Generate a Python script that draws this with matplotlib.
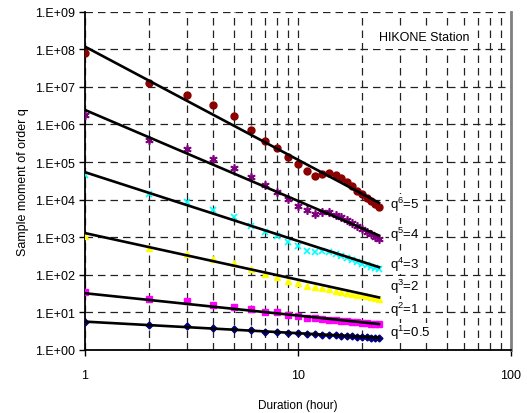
import numpy as np
import matplotlib
matplotlib.use("Agg")
import matplotlib.pyplot as plt

plt.rcParams['font.family'] = ['Liberation Sans', 'DejaVu Sans']
plt.rcParams['mathtext.fontset'] = 'custom'
plt.rcParams['mathtext.rm'] = 'Liberation Sans'

# Durations (hours)
durations = list(range(1, 25))

# log10 of sample moments
log_q05 = [0.74, 0.67, 0.64, 0.58, 0.55, 0.535, 0.49, 0.47, 0.46, 0.45, 0.43, 0.42,
           0.41, 0.40, 0.39, 0.38, 0.37, 0.36, 0.355, 0.35, 0.34, 0.33, 0.325, 0.315]
log_q1 = [1.54, 1.36, 1.30, 1.20, 1.14, 1.10, 1.02, 1.00, 0.93, 0.90, 0.86, 0.84,
          0.83, 0.81, 0.79, 0.77, 0.76, 0.75, 0.74, 0.72, 0.71, 0.70, 0.69, 0.68]
log_q2 = [3.02, 2.715, 2.56, 2.415, 2.31, 2.16, 2.03, 1.93, 1.84, 1.78, 1.69, 1.67,
          1.64, 1.61, 1.58, 1.55, 1.52, 1.49, 1.47, 1.45, 1.43, 1.41, 1.39, 1.37]
log_q3 = [4.66, 4.15, 3.95, 3.73, 3.53, 3.30, 3.15, 3.03, 2.88, 2.78, 2.64, 2.60,
          2.63, 2.60, 2.56, 2.50, 2.45, 2.39, 2.34, 2.29, 2.25, 2.21, 2.18, 2.15]
log_q4 = [6.25, 5.60, 5.34, 5.07, 4.84, 4.60, 4.40, 4.20, 4.02, 3.82, 3.73, 3.62,
          3.66, 3.66, 3.60, 3.53, 3.47, 3.38, 3.30, 3.22, 3.15, 3.08, 3.01, 2.96]
log_q5 = [7.90, 7.095, 6.78, 6.52, 6.22, 5.86, 5.57, 5.375, 5.144, 4.95, 4.77, 4.63,
          4.68, 4.71, 4.665, 4.58, 4.47, 4.36, 4.24, 4.14, 4.05, 3.97, 3.88, 3.80]

# Fitted power-law lines: log10 value at 1 hour and exponent
fit_log_intercept = [0.755, 1.51, 3.11, 4.73, 6.386, 8.07]
fit_exponent = [-0.308, -0.594, -1.24, -1.83, -2.42, -3.01]

series_logs = [log_q05, log_q1, log_q2, log_q3, log_q4, log_q5]
series_labels = ['q$^{1}$=0.5', 'q$^{2}$=1', 'q$^{3}$=2', 'q$^{4}$=3', 'q$^{5}$=4', 'q$^{6}$=5']
label_logy = [0.47, 1.09, 1.70, 2.29, 3.09, 3.89]
colors = ['#000080', '#FF00FF', '#FFFF00', '#00FFFF', '#800080', '#8B0000']
markers = ['D', 's', '^', 'x', (6, 2, 0), 'o']
msizes = [3.5, 4.5, 5, 5, 6, 5]

ytick_vals = [10.0 ** k for k in range(0, 10)]
ytick_labels = ['1.E+0%d' % k for k in range(0, 10)]
xtick_vals = [1, 10, 100]
xtick_labels = ['1', '10', '100']

fig = plt.figure(figsize=(5.27, 4.14), dpi=100)
ax = fig.add_axes([85/527, 1-351/414, (511-85)/527, (351-12.7)/414])

ax.set_xscale('log')
ax.set_yscale('log')
ax.set_xlim(1, 100)
ax.set_ylim(1, 1e9)

d = np.array(durations, dtype=float)
for logs, a, b, c, m, ms in zip(series_logs, fit_log_intercept, fit_exponent, colors, markers, msizes):
    vals = 10.0 ** np.array(logs)
    if m in ('x',) or isinstance(m, tuple):
        ax.plot(d, vals, linestyle='none', marker=m, color=c, ms=ms, mew=1.2, zorder=3)
    else:
        ax.plot(d, vals, linestyle='none', marker=m, color=c, mec=c, ms=ms, zorder=3)
    ax.plot(d, 10.0 ** (a + b * np.log10(d)), color='black', lw=1.9, zorder=4)

for lab, ly in zip(series_labels, label_logy):
    ax.text(27, 10.0 ** ly, lab, fontsize=9.5, ha='left', va='center', zorder=5,
            bbox=dict(facecolor='white', edgecolor='none', pad=0.5))

ax.text(379/527, 1-38/414, 'HIKONE Station', transform=fig.transFigure, fontsize=9,
        ha='left', va='center', zorder=5,
        bbox=dict(facecolor='white', edgecolor='none', pad=4))

ax.set_yticks(ytick_vals)
ax.set_yticklabels(ytick_labels)
ax.set_yticks([], minor=True)
ax.set_xticks(xtick_vals)
ax.set_xticklabels(xtick_labels)
ax.tick_params(axis='both', which='major', labelsize=9, direction='out', length=4, width=1)
ax.tick_params(axis='x', which='minor', length=0)
ax.tick_params(axis='x', pad=10)

ax.grid(True, which='major', axis='y', color='#222222', linestyle=(0, (6, 4)), lw=0.9)
ax.grid(True, which='both', axis='x', color='#222222', linestyle=(0, (6, 4)), lw=0.9)
ax.set_axisbelow(True)

ax.spines['top'].set_visible(False)
ax.spines['right'].set_color('#808080')
ax.spines['right'].set_linewidth(2)
ax.spines['left'].set_linewidth(1.3)
ax.spines['bottom'].set_linewidth(1.3)

ax.set_xlabel('Duration (hour)', fontsize=8.5, labelpad=13)
ax.set_ylabel('Sample moment of order q', fontsize=9, labelpad=4)

fig.savefig('out.png', dpi=100)
